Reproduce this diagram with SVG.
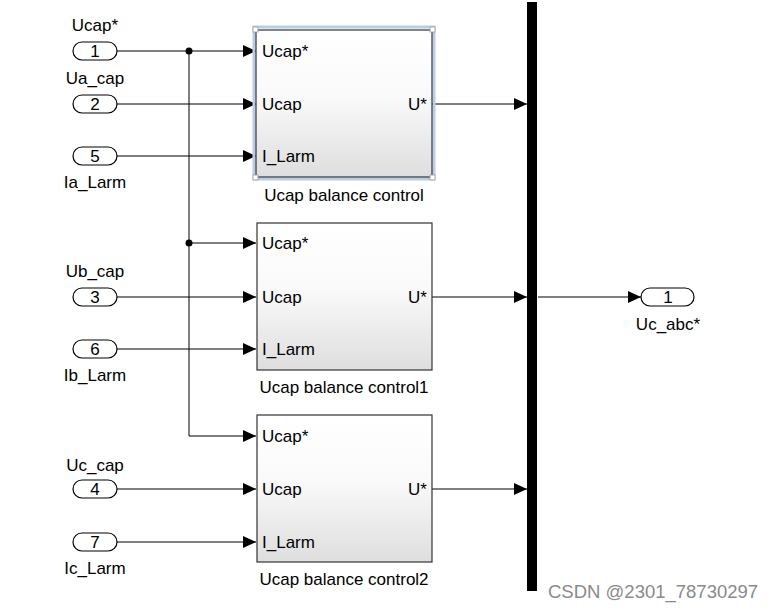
<svg xmlns="http://www.w3.org/2000/svg" width="776" height="612" viewBox="0 0 776 612">
<defs>
<linearGradient id="blk" x1="0" y1="0" x2="0" y2="1">
<stop offset="0" stop-color="#ffffff"/>
<stop offset="0.45" stop-color="#fafafa"/>
<stop offset="1" stop-color="#dedede"/>
</linearGradient>
<marker id="arr" markerWidth="13" markerHeight="12" refX="13" refY="6" orient="auto" markerUnits="userSpaceOnUse">
<path d="M0,0 L13,6 L0,12 Z" fill="#000"/>
</marker>
</defs>
<style>
text{font-family:"Liberation Sans",Arial,sans-serif;font-size:17px;fill:#000}
.pill{fill:#fff;stroke:#000;stroke-width:1.2}
.blk{fill:url(#blk);stroke:#333;stroke-width:1.2}
.wire{fill:none;stroke:#000;stroke-width:1}
.mid{text-anchor:middle}
.end{text-anchor:end}
</style>
<rect width="776" height="612" fill="#fff"/>

<g id="connectors">
<path class="wire" d="M117,51 H256" marker-end="url(#arr)"/>
<path class="wire" d="M117,104 H256" marker-end="url(#arr)"/>
<path class="wire" d="M117,156 H256" marker-end="url(#arr)"/>
<path class="wire" d="M189,51 V436 H256" marker-end="url(#arr)"/>
<path class="wire" d="M189,243 H256" marker-end="url(#arr)"/>
<path class="wire" d="M117,297 H256" marker-end="url(#arr)"/>
<path class="wire" d="M117,349 H256" marker-end="url(#arr)"/>
<path class="wire" d="M117,489 H256" marker-end="url(#arr)"/>
<path class="wire" d="M117,542 H256" marker-end="url(#arr)"/>
<path class="wire" d="M432,104 H527" marker-end="url(#arr)"/>
<path class="wire" d="M432,297 H527" marker-end="url(#arr)"/>
<path class="wire" d="M432,489 H527" marker-end="url(#arr)"/>
<path class="wire" d="M538,297 H641" marker-end="url(#arr)"/>
<circle cx="189" cy="51" r="3.5" fill="#000"/>
<circle cx="189" cy="243" r="3.5" fill="#000"/>
</g>

<g id="in1">
<rect class="pill" x="73" y="42" width="44" height="18" rx="9"/>
<text class="mid" x="95" y="57">1</text>
<text class="mid" x="95" y="31">Ucap*</text>
</g>
<g id="in2">
<rect class="pill" x="73" y="95" width="44" height="18" rx="9"/>
<text class="mid" x="95" y="110">2</text>
<text class="mid" x="95" y="84">Ua_cap</text>
</g>
<g id="in5">
<rect class="pill" x="73" y="147" width="44" height="18" rx="9"/>
<text class="mid" x="95" y="162">5</text>
<text class="mid" x="95" y="188">Ia_Larm</text>
</g>
<g id="in3">
<rect class="pill" x="73" y="288" width="44" height="18" rx="9"/>
<text class="mid" x="95" y="303">3</text>
<text class="mid" x="95" y="277">Ub_cap</text>
</g>
<g id="in6">
<rect class="pill" x="73" y="340" width="44" height="18" rx="9"/>
<text class="mid" x="95" y="355">6</text>
<text class="mid" x="95" y="381">Ib_Larm</text>
</g>
<g id="in4">
<rect class="pill" x="73" y="480" width="44" height="18" rx="9"/>
<text class="mid" x="95" y="495">4</text>
<text class="mid" x="95" y="471">Uc_cap</text>
</g>
<g id="in7">
<rect class="pill" x="73" y="533" width="44" height="18" rx="9"/>
<text class="mid" x="95" y="548">7</text>
<text class="mid" x="95" y="574">Ic_Larm</text>
</g>

<g id="block1">
<rect x="254" y="27" width="180" height="152" fill="none" stroke="#b7cde8" stroke-width="3"/>
<rect class="blk" x="256" y="30" width="176" height="147"/>
<rect x="253" y="27" width="5" height="5" fill="#fff" stroke="#999" stroke-width="0.8"/>
<rect x="430" y="27" width="5" height="5" fill="#fff" stroke="#999" stroke-width="0.8"/>
<rect x="253" y="175" width="5" height="5" fill="#fff" stroke="#999" stroke-width="0.8"/>
<rect x="430" y="175" width="5" height="5" fill="#fff" stroke="#999" stroke-width="0.8"/>
<text x="262" y="57">Ucap*</text>
<text x="262" y="110">Ucap</text>
<text x="262" y="162">I_Larm</text>
<text class="end" x="427" y="110">U*</text>
<text class="mid" x="344" y="201">Ucap balance control</text>
</g>

<g id="block2">
<rect class="blk" x="257" y="223" width="175" height="147"/>
<text x="262" y="249">Ucap*</text>
<text x="262" y="303">Ucap</text>
<text x="262" y="355">I_Larm</text>
<text class="end" x="427" y="303">U*</text>
<text class="mid" x="344" y="393">Ucap balance control1</text>
</g>

<g id="block3">
<rect class="blk" x="257" y="415" width="175" height="147"/>
<text x="262" y="442">Ucap*</text>
<text x="262" y="495">Ucap</text>
<text x="262" y="548">I_Larm</text>
<text class="end" x="427" y="495">U*</text>
<text class="mid" x="344" y="585">Ucap balance control2</text>
</g>

<g id="mux">
<rect x="527" y="2" width="10" height="589" fill="#000"/>
</g>

<g id="out1">
<rect class="pill" x="641" y="288" width="53" height="18" rx="9"/>
<text class="mid" x="668" y="303">1</text>
<text class="mid" x="668" y="330">Uc_abc*</text>
</g>

<text x="548" y="598" style="font-size:18.5px;fill:#8a8a8a">CSDN @2301_78730297</text>
</svg>
